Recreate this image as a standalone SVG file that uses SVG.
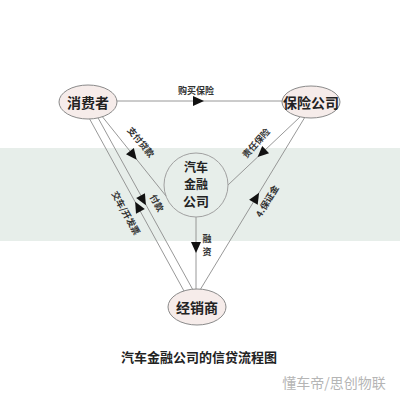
<svg xmlns="http://www.w3.org/2000/svg" width="400" height="400" viewBox="0 0 400 400">
<style>
.node{fill:#f6ecea;stroke:#8a8a8a;stroke-width:1}
.nt{font-family:"Noto Sans CJK SC","Noto Sans",sans-serif;font-weight:bold;font-size:14px;fill:#222;text-anchor:middle;dominant-baseline:central}
.ln{stroke:#8c8c8c;stroke-width:0.9;fill:none}
.lb{font-family:"Noto Sans CJK SC","Noto Sans",sans-serif;font-weight:bold;font-size:9px;fill:#333;text-anchor:middle;dominant-baseline:central}
.arr{fill:#111}
</style>
<defs>
<path id="tri" d="M-5,-5 L6,0 L-5,5 Z"/>
</defs>
<rect width="400" height="400" fill="#ffffff"/>
<rect x="0" y="148" width="400" height="93" fill="#e7eeea"/>
<g id="connectors">
<line class="ln" x1="117" y1="101" x2="282" y2="101"/>
<use href="#tri" class="arr" transform="translate(198,101)"/>
<text class="lb" x="196" y="90">购买保险</text>
<line class="ln" x1="88" y1="116" x2="184" y2="291"/>
<use href="#tri" class="arr" transform="translate(138,207) rotate(-118.6)"/>
<text class="lb" transform="translate(126,213) rotate(61)">交车/开发票</text>
<line class="ln" x1="97" y1="116" x2="193" y2="290"/>
<use href="#tri" class="arr" transform="translate(143,200) rotate(61)"/>
<text class="lb" transform="translate(157,203) rotate(61)">付款</text>
<line class="ln" x1="101" y1="115" x2="166" y2="196"/>
<use href="#tri" class="arr" transform="translate(133,155) rotate(52)"/>
<text class="lb" transform="translate(141,142) rotate(50)">支付贷款</text>
<line class="ln" x1="300" y1="117" x2="228" y2="185"/>
<use href="#tri" class="arr" transform="translate(262,153) rotate(136.7)"/>
<text class="lb" transform="translate(256,143) rotate(-48)">责任保险</text>
<line class="ln" x1="305" y1="117" x2="200" y2="290"/>
<use href="#tri" class="arr" transform="translate(256,198) rotate(-59)"/>
<text class="lb" transform="translate(267,201) rotate(-59)">4.保证金</text>
<line class="ln" x1="196" y1="217" x2="196" y2="289"/>
<use href="#tri" class="arr" transform="translate(196,247) rotate(90)"/>
<text class="lb" x="207" y="238">融</text>
<text class="lb" x="207" y="251">资</text>
</g>
<g id="n-jinrong">
<circle cx="196" cy="185" r="32" fill="none" stroke="#a0a0a0" stroke-width="1"/>
<text class="nt" x="196" y="166" style="font-size:12px">汽车</text>
<text class="nt" x="196" y="183" style="font-size:12px">金融</text>
<text class="nt" x="196" y="200" style="font-size:13px">公司</text>
</g>
<g id="n-xiaofeizhe">
<ellipse class="node" cx="88" cy="102" rx="29" ry="17"/>
<text class="nt" x="88" y="102">消费者</text>
</g>
<g id="n-baoxian">
<ellipse class="node" cx="311" cy="102" rx="29" ry="16"/>
<text class="nt" x="311" y="102">保险公司</text>
</g>
<g id="n-jingxiaoshang">
<ellipse class="node" cx="197" cy="307" rx="29" ry="18"/>
<text class="nt" x="197" y="307">经销商</text>
</g>
<text x="199" y="362" style="font-family:'Noto Sans CJK SC',sans-serif;font-weight:bold;font-size:13px;fill:#222;text-anchor:middle">汽车金融公司的信贷流程图</text>
<text x="334" y="388" style="font-family:'Noto Sans CJK SC',sans-serif;font-size:14px;fill:#b5b5b5;text-anchor:middle">懂车帝/思创物联</text>
</svg>
